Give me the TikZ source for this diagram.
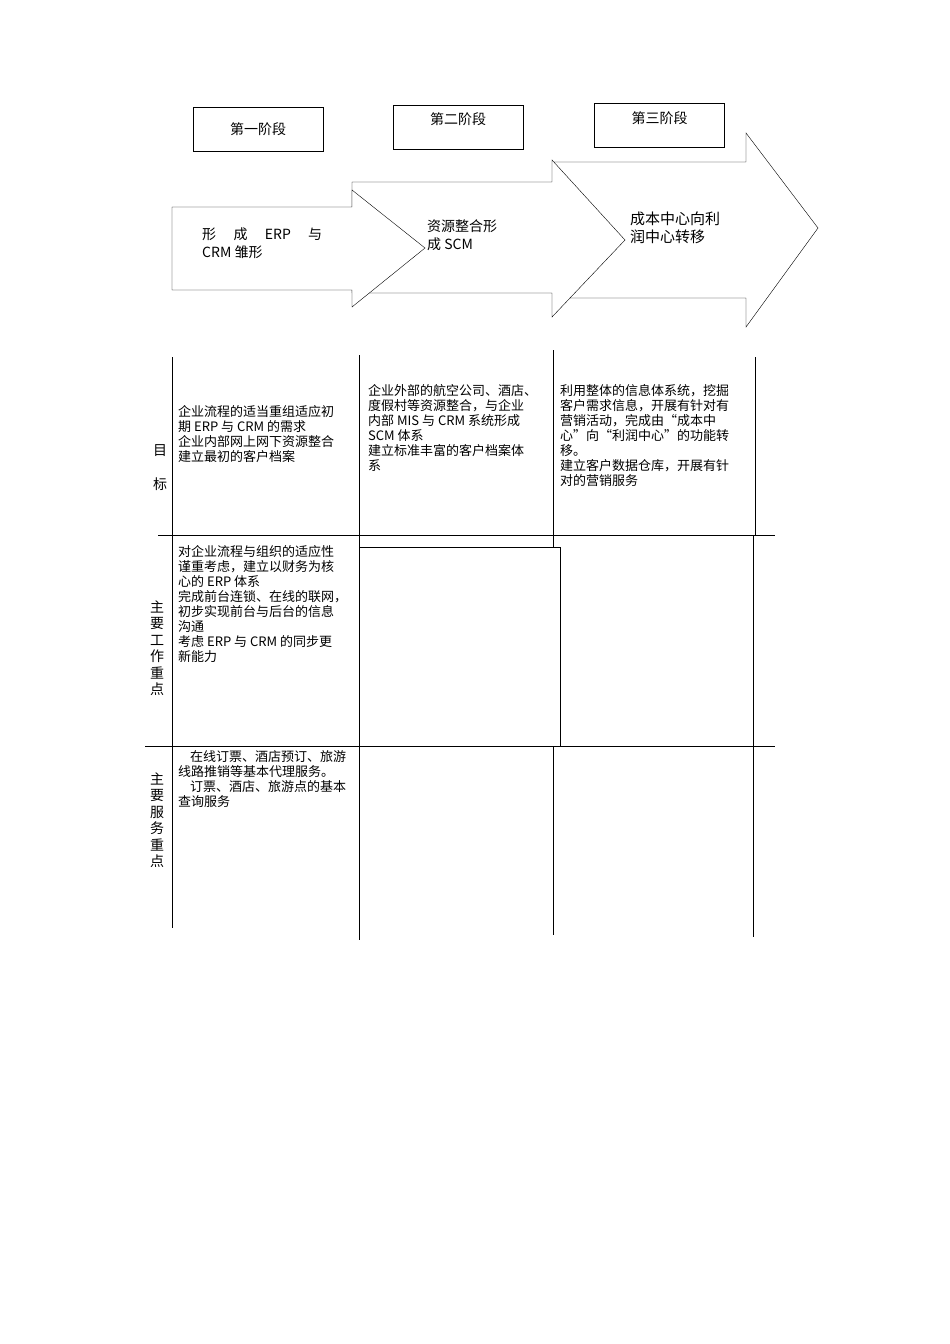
\documentclass[tikz,border=0pt]{standalone}
\usepackage{fontspec}
\setmainfont{Noto Sans CJK SC}
\begin{document}
\begin{tikzpicture}[x=1pt,y=-1pt,
    stagebox/.style={draw, minimum width=130pt, minimum height=44pt, font=\fontsize{14}{16}\selectfont},
    celltext/.style={anchor=north west, align=left, inner sep=0pt, font=\fontsize{13}{15}\selectfont},
    rowlabel/.style={align=center, inner sep=0pt, font=\fontsize{14}{16.5}\selectfont}]
  \useasboundingbox (0,0) rectangle (950,1344);
  % Stufen
  \node[stagebox] (s1) at (258,129.5) {第一阶段};
  \node[stagebox, text depth=16pt] (s2) at (458,127) {第二阶段};
  \node[stagebox, text depth=16pt] (s3) at (659.5,125.5) {第三阶段};
  % Pfeile
  \draw[fill=white] (554,162) -- (746,162) -- (746,133) -- (818,228) -- (746,327) -- (746,298) -- (554,298) -- cycle;
  \draw[fill=white] (352,182) -- (552,182) -- (552,160) -- (625,240) -- (552,317) -- (552,293) -- (352,293) -- cycle;
  \draw[fill=white] (172,207) -- (352,207) -- (352,190) -- (425,248) -- (352,307) -- (352,290) -- (172,290) -- cycle;
  \node[celltext, font=\fontsize{14}{18}\selectfont, text width=120pt, align=justify] (a1) at (202,228) {形\hfill 成\hfill ERP\hfill 与\\CRM 雏形};
  \node[celltext, font=\fontsize{14}{18}\selectfont] (a2) at (427,219) {资源整合形\\成 SCM};
  \node[celltext, font=\fontsize{15}{18}\selectfont] (a3) at (630,212) {成本中心向利\\润中心转移};
  % Tabelle
  \draw (172,357) -- (172,928);
  \draw (359,355) -- (359,940);
  \draw (553,350) -- (553,548);
  \draw (553,746) -- (553,935);
  \draw (755,357) -- (755,535);
  \draw (753,535) -- (753,937);
  \draw (158,535) -- (775,535);
  \draw (145,746) -- (775,746);
  \draw (359,547) rectangle (560,746);
  \node[rowlabel] (r1a) at (160,451) {目};
  \node[rowlabel] (r1b) at (160,484) {标};
  \node[rowlabel] (r2) at (157,648) {主\\要\\工\\作\\重\\点};
  \node[rowlabel] (r3) at (157,820) {主\\要\\服\\务\\重\\点};
  \node[celltext] (c11) at (178,405) {企业流程的适当重组适应初\\期 ERP 与 CRM 的需求\\企业内部网上网下资源整合\\建立最初的客户档案};
  \node[celltext] (c12) at (368,384) {企业外部的航空公司、酒店、\\度假村等资源整合，与企业\\内部 MIS 与 CRM 系统形成\\SCM 体系\\建立标准丰富的客户档案体\\系};
  \node[celltext] (c13) at (560,384) {利用整体的信息体系统，挖掘\\客户需求信息，开展有针对有\\营销活动，完成由“成本中\\心”向“利润中心”的功能转\\移。\\建立客户数据仓库，开展有针\\对的营销服务};
  \node[celltext] (c21) at (178,545) {对企业流程与组织的适应性\\谨重考虑，建立以财务为核\\心的 ERP 体系\\完成前台连锁、在线的联网，\\初步实现前台与后台的信息\\沟通\\考虑 ERP 与 CRM 的同步更\\新能力};
  \node[celltext] (c31) at (178,750) {\hspace*{12pt}在线订票、酒店预订、旅游\\线路推销等基本代理服务。\\\hspace*{12pt}订票、酒店、旅游点的基本\\查询服务};
\end{tikzpicture}
\end{document}
